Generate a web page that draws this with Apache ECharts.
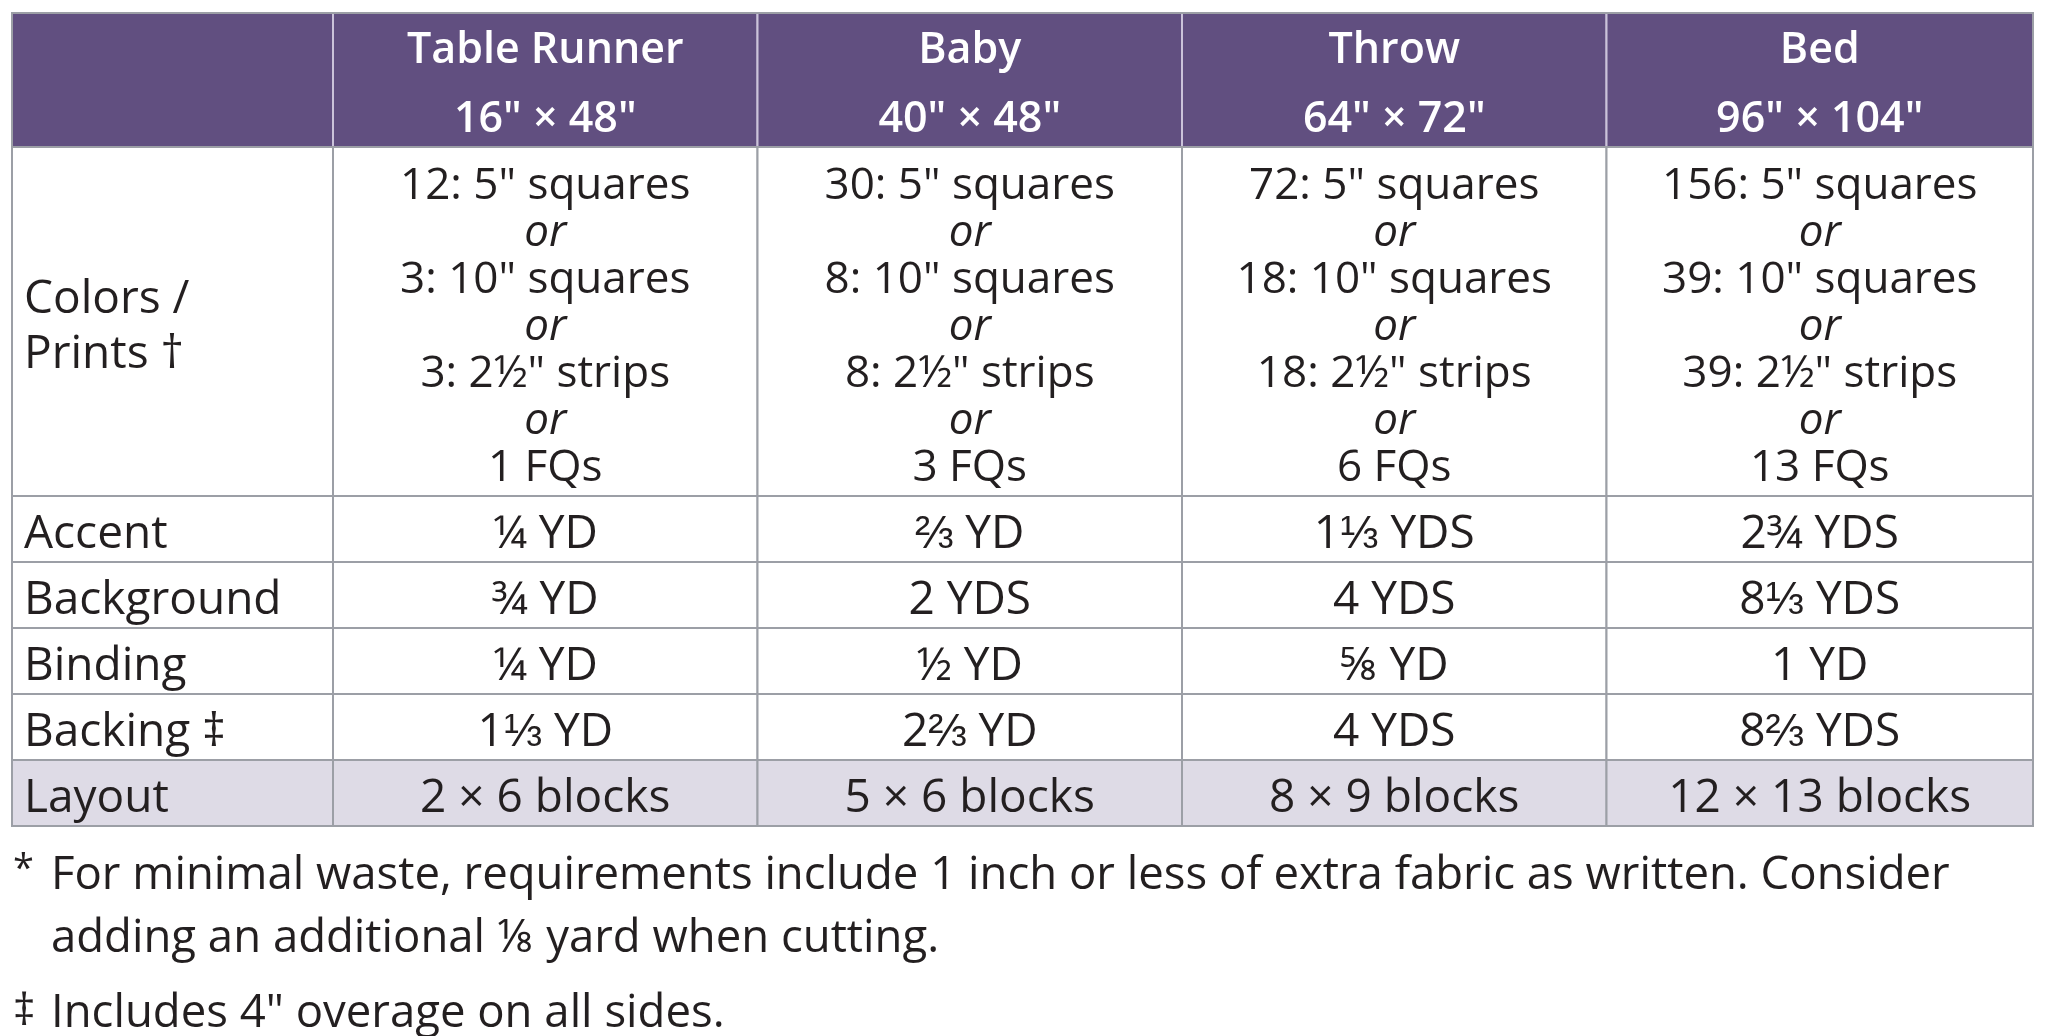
<!DOCTYPE html>
<html>
<head>
<meta charset="utf-8">
<script src="https://cdn.jsdelivr.net/npm/echarts@6/dist/echarts.min.js"></script>
<style>html,body{margin:0;padding:0;background:#fff;}#c{width:2048px;height:1036px;}</style>
</head>
<body>
<div id="c"></div>
<script>
// ---- data ----
const quiltNames = ['Table Runner', 'Baby', 'Throw', 'Bed'];
const quiltSizes = ['16" × 48"', '40" × 48"', '64" × 72"', '96" × 104"'];
const rowLabels = ['Colors /\nPrints †', 'Accent', 'Background', 'Binding', 'Backing ‡', 'Layout'];
const fiveInchSquares = [12, 30, 72, 156];
const tenInchSquares = [3, 8, 18, 39];
const strips = [3, 8, 18, 39];
const fatQuarters = [1, 3, 6, 13];
const accent = ['¼ YD', '⅔ YD', '1⅓ YDS', '2¾ YDS'];
const background = ['¾ YD', '2 YDS', '4 YDS', '8⅓ YDS'];
const binding = ['¼ YD', '½ YD', '⅝ YD', '1 YD'];
const backing = ['1⅓ YD', '2⅔ YD', '4 YDS', '8⅔ YDS'];
const layoutBlocks = ['2 × 6 blocks', '5 × 6 blocks', '8 × 9 blocks', '12 × 13 blocks'];
const footnotes = [
  ['*', 'For minimal waste, requirements include 1 inch or less of extra fabric as written. Consider\nadding an additional ⅛ yard when cutting.'],
  ['‡', 'Includes 4" overage on all sides.']
];

// ---- layout (axis units) ----
const colWidths = [321, 424.5, 424.5, 424.5, 426.5];
const rowHeights = [134, 349, 66, 66, 66, 66, 66];
const colEdges = [0]; colWidths.forEach(w => colEdges.push(colEdges[colEdges.length - 1] + w));
const rowEdges = [0]; rowHeights.forEach(h => rowEdges.push(rowEdges[rowEdges.length - 1] + h));
const FONT = '"Open Sans", sans-serif';
const TXT = '#231f20';
const PURPLE = '#614f80';
const GRID = '#9c9fa6';
const LAYOUT_FILL = '#dedbe6';

// ---- build cells ----
const cells = [];
cells.push({ value: [0, 0], kind: 'head', text: '' });
quiltNames.forEach((n, i) => cells.push({ value: [i + 1, 0], kind: 'head', text: '{b|' + n + '}\n{b|' + quiltSizes[i] + '}' }));
rowLabels.forEach((l, r) => cells.push({ value: [0, r + 1], kind: r === 5 ? 'layoutLabel' : 'label', text: l }));
quiltNames.forEach((n, i) => {
  const t = ['{n|' + fiveInchSquares[i] + ': 5" squares}', '{i|or}',
    '{n|' + tenInchSquares[i] + ': 10" squares}', '{i|or}',
    '{n|' + strips[i] + ': 2½" strips}', '{i|or}',
    '{n|' + fatQuarters[i] + ' FQs}'].join('\n');
  cells.push({ value: [i + 1, 1], kind: 'multi', text: t });
});
[accent, background, binding, backing].forEach((arr, k) => {
  arr.forEach((v, i) => cells.push({ value: [i + 1, k + 2], kind: 'body', text: v }));
});
layoutBlocks.forEach((v, i) => cells.push({ value: [i + 1, 6], kind: 'layout', text: v }));
cells.push({ value: [-1, -1], kind: 'border', text: '' });

function renderItem(params, api) {
  const d = cells[params.dataIndex];
  const c = d.value[0], r = d.value[1];
  if (d.kind === 'border') {
    const p0 = api.coord([0, 0]), p1 = api.coord([colEdges[colEdges.length - 1], rowEdges[rowEdges.length - 1]]);
    return { type: 'rect', shape: { x: p0[0], y: p0[1], width: p1[0] - p0[0], height: p1[1] - p0[1] },
      style: { fill: 'none', stroke: GRID, lineWidth: 2 } };
  }
  const p0 = api.coord([colEdges[c], rowEdges[r]]);
  const p1 = api.coord([colEdges[c + 1], rowEdges[r + 1]]);
  const w = p1[0] - p0[0], h = p1[1] - p0[1];
  let fill = '#ffffff', stroke = GRID;
  if (d.kind === 'head') { fill = PURPLE; stroke = '#cbc3da'; }
  if (d.kind === 'layout' || d.kind === 'layoutLabel') fill = LAYOUT_FILL;
  const children = [{ type: 'rect', shape: { x: p0[0], y: p0[1], width: w, height: h },
    style: { fill: fill, stroke: stroke, lineWidth: 2 } }];
  const isLabel = d.kind === 'label' || d.kind === 'layoutLabel';
  if (d.text) {
    let dy = 6;
    if (d.kind === 'head') dy = 5;
    children.push({
      type: 'text',
      style: {
        text: d.text,
        x: isLabel ? p0[0] + 12 : p0[0] + w / 2,
        y: p0[1] + h / 2 + dy,
        align: isLabel ? 'left' : 'center',
        verticalAlign: 'middle',
        fill: d.kind === 'head' ? '#ffffff' : TXT,
        fontFamily: FONT,
        fontSize: 46,
        lineHeight: isLabel ? 55 : 47,
        rich: {
          b: { fontFamily: FONT, fontSize: 43, fontWeight: 600, fill: '#ffffff', lineHeight: 69 },
          n: { fontFamily: FONT, fontSize: 44, fill: TXT, lineHeight: 47 },
          i: { fontFamily: FONT, fontSize: 44, fontStyle: 'italic', fill: TXT, lineHeight: 47 }
        }
      }
    });
  }
  return { type: 'group', children: children };
}

const chart = echarts.init(document.getElementById('c'), null, { renderer: 'canvas' });
const graphics = [];
footnotes.forEach((f, k) => {
  const top = k === 0 ? 845 : 983;
  graphics.push({ type: 'text', left: 13, top: k === 0 ? top + 6 : top + 7,
    style: { text: f[0], fontFamily: FONT, fontSize: k === 0 ? 38 : 44, fill: TXT } });
  graphics.push({ type: 'text', left: 51, top: top, style: { text: f[1], fontFamily: FONT, fontSize: 45.5, lineHeight: 63, fill: TXT } });
});
chart.setOption({
  animation: false,
  backgroundColor: '#ffffff',
  grid: { left: 12, top: 13, width: colEdges[colEdges.length - 1], height: rowEdges[rowEdges.length - 1] },
  xAxis: { type: 'value', min: 0, max: colEdges[colEdges.length - 1], show: false },
  yAxis: { type: 'value', min: 0, max: rowEdges[rowEdges.length - 1], inverse: true, show: false },
  graphic: graphics,
  series: [{ type: 'custom', renderItem: renderItem, data: cells, clip: false, silent: true }]
});
</script>
</body>
</html>
